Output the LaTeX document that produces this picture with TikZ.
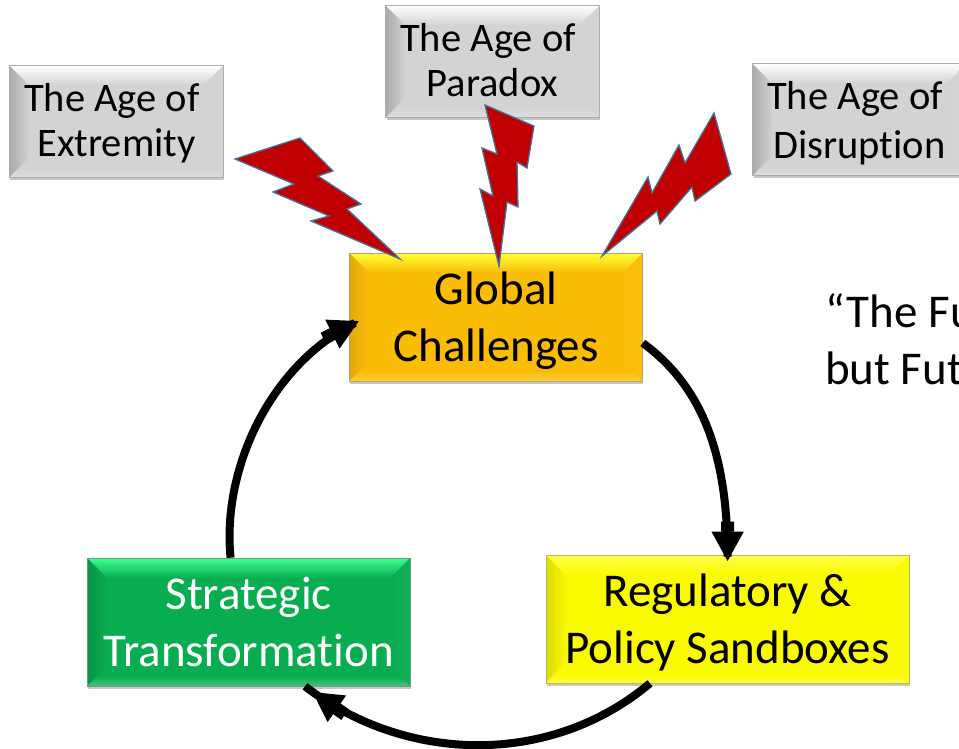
\documentclass[tikz,border=0pt]{standalone}
\usepackage{fontspec}
\setmainfont[Ligatures=NoCommon]{Carlito}
\usetikzlibrary{arrows.meta,decorations.markings,shadows,calc}
\newcommand{\agefirst}{The Age of\hspace*{9pt}}
\newcommand{\twolines}[4]{\rule{0pt}{#1pt}#3\\\rule[-#2pt]{0pt}{#2pt}#4}
\tikzset{
  bevelbox/.style n args={4}{
    draw=#2!55!black!60!white, line width=0.6pt, fill=#1, inner sep=0pt, align=center,
    drop shadow={shadow xshift=0.8pt,shadow yshift=-2.5pt,opacity=0.22,fill=black},
    path picture={
      \coordinate (nw) at (path picture bounding box.north west);
      \coordinate (ne) at (path picture bounding box.north east);
      \coordinate (sw) at (path picture bounding box.south west);
      \coordinate (se) at (path picture bounding box.south east);
      \fill[left color=#3,right color=#1] (nw) -- ([shift={(20pt,-20pt)}]nw) -- ([shift={(20pt,20pt)}]sw) -- (sw) -- cycle;
      \fill[left color=#1,right color=#1!96!white] (ne) -- ([shift={(-20pt,-20pt)}]ne) -- ([shift={(-20pt,20pt)}]se) -- (se) -- cycle;
      \fill[top color=#4,bottom color=#1] (nw) -- (ne) -- ([shift={(-20pt,-20pt)}]ne) -- ([shift={(20pt,-20pt)}]nw) -- cycle;
      \fill[bottom color=#1!75!white,top color=#1,middle color=#1] (sw) -- (se) -- ([shift={(-20pt,20pt)}]se) -- ([shift={(20pt,20pt)}]sw) -- cycle;
    }},
  bignode/.style={minimum width=293pt,minimum height=128pt,font=\fontsize{47}{57}\selectfont},
  agebox/.style={bevelbox={gray3}{gray3}{gray4}{white},minimum width=213.5pt,minimum height=112pt,font=\fontsize{40.5}{#1}\selectfont},
  bolt/.style={fill=boltred,draw=boltblue,line width=1.3pt,line join=miter},
  flow/.style={line width=8pt,postaction={decorate},decoration={markings,mark=at position #1 with {\pgftransformxshift{5pt}\arrow{Rectangle[length=10pt,width=13pt]Triangle[length=30pt,width=30pt]}}}},
  quotetext/.style={font=\fontsize{47}{57}\selectfont,align=left,anchor=north west,inner sep=0pt}
}
\definecolor{gray3}{HTML}{D3D3D3}
\definecolor{gray4}{HTML}{ABABAB}
\definecolor{goldb}{HTML}{FBBC06}
\definecolor{goldd}{HTML}{E2A90A}
\definecolor{goldl}{HTML}{FFFF33}
\definecolor{greenb}{HTML}{08AD50}
\definecolor{greend}{HTML}{099545}
\definecolor{greenl}{HTML}{40FF90}
\definecolor{yellb}{HTML}{FAFA00}
\definecolor{yelld}{HTML}{DCDC00}
\definecolor{yelll}{HTML}{FFFF4D}
\definecolor{boltred}{HTML}{C00000}
\definecolor{boltblue}{HTML}{41719C}
\begin{document}
\begin{tikzpicture}[x=1pt,y=-1pt]
\useasboundingbox (0,0) rectangle (959,749);
\node[agebox=45] (extremity) at (116.4,121.5) {\twolines{37}{12}{\agefirst}{Extremity}};
\node[agebox=45] (paradox) at (492.5,61.5) {\twolines{37}{12}{\agefirst}{Paradox}};
\node[agebox=49] (disruption) at (859.5,119.7) {\twolines{40.5}{12}{\agefirst}{Disruption}};
\node[bevelbox={goldb}{goldb}{goldd}{goldl},bignode] (global) at (496,317) {\twolines{46}{14}{Global}{Challenges}};
\node[bevelbox={yellb}{yellb}{yelld}{yelll},bignode,minimum width=363pt] (sandbox) at (727.6,619) {\twolines{46}{14}{Regulatory \&}{Policy Sandboxes}};
\node[bevelbox={greenb}{greenb}{greend}{greenl},bignode,minimum width=322.5pt,text=white] (transform) at (248.6,622) {\twolines{46}{14}{Strategic}{Transformation}};
\node[quotetext] (quote) at (825,293) {“The Fu\\but Fut};
\draw[bolt] (235,159) -- (300,138) -- (333,171) -- (318,176) -- (361,204) -- (347,209) -- (400,259) -- (311,221) -- (329,216) -- (273,192) -- (294,184) -- cycle;
\draw[bolt] (485,105) -- (534,126) -- (527,168) -- (517,162) -- (518,207) -- (507,202) -- (499,266) -- (480,189) -- (493,196) -- (482,148) -- (497,154) -- cycle;
\draw[bolt] (714,113) -- (731,174) -- (695,201) -- (692,187) -- (660,224) -- (657,211) -- (602,256) -- (648,177) -- (652,193) -- (679,145) -- (685,163) -- cycle;
\draw[flow=-0.1pt] ([yshift=-26pt]global.east) .. controls +(57,42) and +(0,-107) .. ([yshift=-2pt]sandbox.north);
\draw[flow=-14pt] ([xshift=-77.6pt]sandbox.south) .. controls +(-100,84) and +(100,77) .. ([xshift=56.4pt]transform.south);
\draw[flow=-0.1pt] ([xshift=-18pt]transform.north) .. controls +(-9,-88) and +(-85,42) .. ([shift={(5.7pt,-6pt)}]global.west);
\end{tikzpicture}
\end{document}
